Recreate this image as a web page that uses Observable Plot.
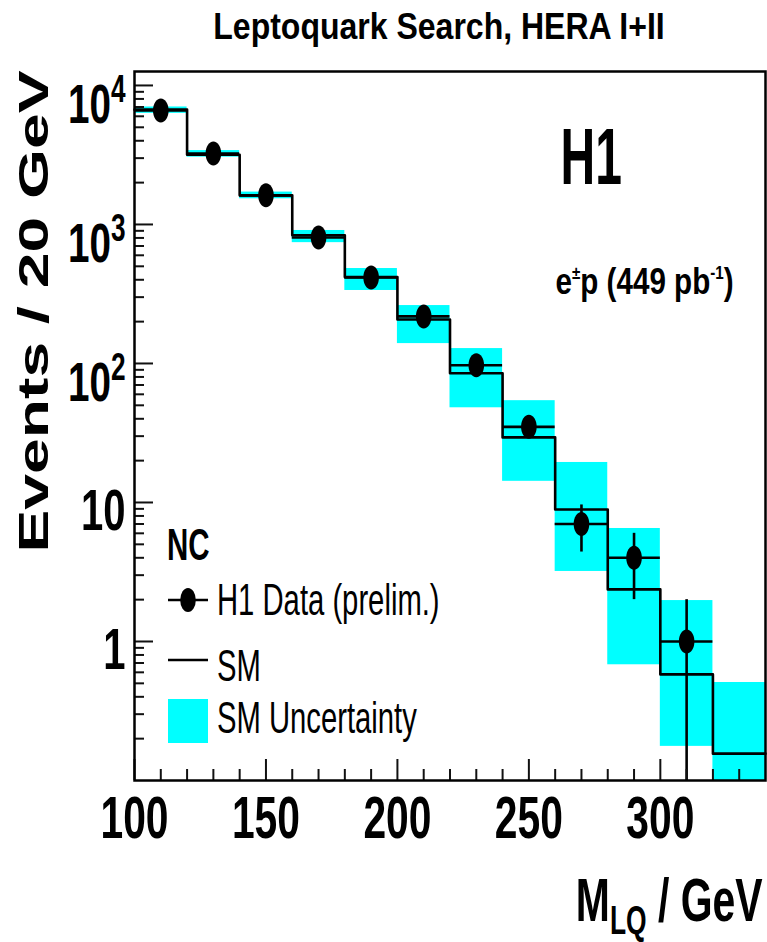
<!DOCTYPE html>
<html><head><meta charset="utf-8">
<script src="https://cdn.jsdelivr.net/npm/d3@7"></script>
<script src="https://cdn.jsdelivr.net/npm/@observablehq/plot@0.6"></script>
<style>
body{margin:0;background:#fff;}
#wrap{position:relative;width:767px;height:942px;overflow:hidden;font-family:"Liberation Sans",Arial,sans-serif;}
#title{position:absolute;left:0;top:0;width:767px;height:60px;}
#title span{position:absolute;left:439px;top:8px;font-size:37px;font-weight:bold;line-height:37px;white-space:nowrap;transform:translateX(-50%) scaleX(0.865);}
#chart{position:absolute;left:0;top:60px;}
#legend{position:absolute;left:0;top:0;}
</style></head>
<body>
<div id="wrap">
  <div id="title"><span>Leptoquark Search, HERA I+II</span></div>
  <div id="chart"></div>
</div>
<script>
// ---- data ----
const binLow    = [100,120,140,160,180,200,220,240,260,280,300,320];
const binHigh   = [120,140,160,180,200,220,240,260,280,300,320,340];
const smEvents  = [6700,3170,1620,837,418,207,85,29.4,8.9,2.37,0.58,0.156];
const smUncLow  = [6300,3050,1530,740,335,139,48,14.2,3.19,0.68,0.176,0.08];
const smUncHigh = [7000,3400,1710,905,482,261,128,54,19.4,6.5,1.97,0.507];
const dataMass    = [110,130,150,170,190,210,230,250,270,290,310];
const dataEvents  = [6600,3240,1620,806,416,218,97,35,7,4,1];
const dataErrDown = [81,57,40,28,20,15,10,6,2.6,2,1];
const dataErrUp   = [81,57,40,28,20,15,10,6,2.6,2,1];
const xMajorTicks = [100,150,200,250,300];
const xMinorTicks = [110,120,130,140,160,170,180,190,210,220,230,240,260,270,280,290,310,320,330];
const yPlainTicks = [1,10];
const yPlainLabels = ["1","10"];
const yPowerTicks = [100,1000,10000];
const yPowerLabels = ["10^{2}","10^{3}","10^{4}"];
const yMinorTicks = [0.2,0.3,0.4,0.5,0.6,0.7,0.8,0.9,2,3,4,5,6,7,8,9,20,30,40,50,60,70,80,90,200,300,400,500,600,700,800,900,2000,3000,4000,5000,6000,7000,8000,9000];
const titleText = "Leptoquark Search, HERA I+II";
const yLabel = "Events / 20 GeV";
const xLabel = "M_{LQ} / GeV";
const expLabel = "H1";
const lumiLabel = "e^{±}p (449 pb^{-1})";
const legendHeader = "NC";
const legendItems = ["H1 Data (prelim.)", "SM", "SM Uncertainty"];

// ---- tables ----
const smBins = binLow.map((lo, i) => ({lo, hi: binHigh[i], v: smEvents[i], uLo: smUncLow[i], uHi: smUncHigh[i]}));
const smStep = [...binLow.map((m, i) => ({m, v: smEvents[i]})), {m: binHigh[binHigh.length-1], v: smEvents[smEvents.length-1]}];
const points = dataMass.map((m, i) => ({m, n: dataEvents[i], lo: binLow[i], hi: binHigh[i], eLo: dataErrDown[i], eHi: dataErrUp[i]}));

const ellipse = {draw(ctx, size){
  const r = Math.sqrt(size/Math.PI), rx = r*0.65, ry = r, k = 0.5523;
  ctx.moveTo(rx,0);
  ctx.bezierCurveTo(rx, ry*k, rx*k, ry, 0, ry);
  ctx.bezierCurveTo(-rx*k, ry, -rx, ry*k, -rx, 0);
  ctx.bezierCurveTo(-rx, -ry*k, -rx*k, -ry, 0, -ry);
  ctx.bezierCurveTo(rx*k, -ry, rx, -ry*k, rx, 0);
  ctx.closePath();
}};

const W = 767, H = 882, MT = 11, MR = 2, MB = 162, ML = 134;
const frameW = W - ML - MR, frameH = H - MT - MB;
const FONT = "Liberation Sans, Arial, sans-serif";
const TICK = "#111";
const chart = Plot.plot({
  width: W, height: H,
  marginTop: MT, marginRight: MR, marginBottom: MB, marginLeft: ML,
  style: {fontFamily: FONT, background: "white", overflow: "visible"},
  x: {domain: [100, 340]},
  y: {type: "log", domain: [0.1, 12600]},
  marks: [
    Plot.rect(smBins, {x1: "lo", x2: "hi", y1: "uLo", y2: "uHi", fill: "#00ffff", clip: true}),
    Plot.line(smStep, {x: "m", y: "v", curve: "step-after", stroke: "#000", strokeWidth: 2.6}),
    Plot.ruleY(points, {x1: "lo", x2: "hi", y: "n", stroke: "#000", strokeWidth: 2.6}),
    Plot.ruleX(points, {x: "m", y1: d => Math.max(d.n - d.eLo, 0.05), y2: d => d.n + d.eHi, stroke: "#000", strokeWidth: 2.6, clip: true}),
    Plot.dot(points, {x: "m", y: "n", r: 12, symbol: ellipse, fill: "#000", stroke: "none"}),
    // inward ticks
    Plot.tickX(xMajorTicks, {x: d => d, insetTop: frameH - 21, stroke: TICK, strokeWidth: 2}),
    Plot.tickX(xMinorTicks, {x: d => d, insetTop: frameH - 11, stroke: TICK, strokeWidth: 2}),
    Plot.tickY([...yPlainTicks, ...yPowerTicks], {y: d => d, insetRight: frameW - 19, stroke: TICK, strokeWidth: 2}),
    Plot.tickY(yMinorTicks, {y: d => d, insetRight: frameW - 10, stroke: TICK, strokeWidth: 2}),
    // tick labels
    Plot.axisX(xMajorTicks, {tickSize: 0, tickPadding: 15, fontSize: 60, fontWeight: "bold", lineAnchor: "top", tickFormat: d => String(d)}),
    Plot.axisY(yPlainTicks, {tickSize: 0, tickPadding: 9, fontSize: 58, fontWeight: "bold", lineAnchor: "bottom", dy: 28,
      tickFormat: d => yPlainLabels[yPlainTicks.indexOf(d)]}),
    Plot.axisY(yPowerTicks, {tickSize: 0, tickPadding: 9, fontSize: 56, fontWeight: "bold", lineAnchor: "bottom", dy: 38,
      tickFormat: d => yPowerLabels[yPowerTicks.indexOf(d)]}),
    Plot.frame({stroke: "#000", strokeWidth: 2.5}),
    Plot.text([expLabel], {frameAnchor: "top-left", dx: 426, dy: 112, lineAnchor: "bottom", textAnchor: "start", fontSize: 80, fontWeight: "bold"}),
    Plot.text([lumiLabel], {frameAnchor: "top-left", dx: 421, dy: 222, lineAnchor: "bottom", textAnchor: "start", fontSize: 37, fontWeight: "bold"}),
    Plot.text([yLabel], {frameAnchor: "left", rotate: -90, dx: -87, dy: -114.5, lineAnchor: "bottom", textAnchor: "middle", fontSize: 42, fontWeight: "bold"}),
    Plot.text([xLabel], {frameAnchor: "bottom-right", dx: -3, dy: 140, lineAnchor: "bottom", textAnchor: "end", fontSize: 62, fontWeight: "bold"})
  ]
});
document.getElementById("chart").appendChild(chart);

// ---- text post-processing: ROOT-like condensed glyphs and super/subscripts ----
function condense(el, sx){
  const t = el.getAttribute("transform") || "";
  el.setAttribute("transform", t + ` scale(${sx},1)`);
}
function scripts(el, smallSize, shift){
  const s = el.textContent;
  if (!/[\^_]\{/.test(s)) return;
  el.textContent = "";
  const re = /([\^_])\{([^}]*)\}/g;
  let last = 0, m, pending = 0;
  const add = (txt, size, dy) => {
    const ts = document.createElementNS("http://www.w3.org/2000/svg", "tspan");
    ts.textContent = txt;
    if (size) ts.setAttribute("font-size", size);
    if (dy) ts.setAttribute("dy", dy);
    el.appendChild(ts);
  };
  while ((m = re.exec(s))) {
    if (m.index > last) { add(s.slice(last, m.index), null, pending); pending = 0; }
    const d = m[1] === "^" ? -shift : shift;
    add(m[2], smallSize, d + pending);
    pending = -d;
    last = re.lastIndex;
  }
  if (last < s.length) add(s.slice(last), null, pending);
}
const xTickStrings = xMajorTicks.map(String);
d3.select(chart).selectAll("text").each(function(){
  const s = this.textContent;
  if (yPowerLabels.includes(s)) { scripts(this, 38, 21); condense(this, 0.69); }
  else if (yPlainLabels.includes(s)) condense(this, 0.69);
  else if (xTickStrings.includes(s)) condense(this, 0.68);
  else if (s === expLabel) condense(this, 0.6);
  else if (s === lumiLabel) { scripts(this, 19, 15); condense(this, 0.8); }
  else if (s === yLabel) condense(this, 1.53);
  else if (s === xLabel) { scripts(this, 40, 13); condense(this, 0.66); }
});

// ---- legend (page coordinates overlay) ----
const leg = d3.select("#wrap").append("svg").attr("id","legend").attr("width",767).attr("height",942)
  .style("font-family", FONT);
leg.append("text").attr("transform","translate(167,560) scale(0.67,1)").attr("font-size",44).attr("font-weight","bold").text(legendHeader);
leg.append("line").attr("x1",168).attr("x2",208).attr("y1",600).attr("y2",600).attr("stroke","#000").attr("stroke-width",2.6);
leg.append("ellipse").attr("cx",188).attr("cy",600).attr("rx",7.8).attr("ry",12).attr("fill","#000");
leg.append("line").attr("x1",168).attr("x2",208).attr("y1",660).attr("y2",660).attr("stroke","#000").attr("stroke-width",2.6);
leg.append("rect").attr("x",168).attr("y",699).attr("width",40).attr("height",44).attr("fill","#00ffff");
[[615, legendItems[0]], [681, legendItems[1]], [733, legendItems[2]]].forEach(([y, t]) => {
  leg.append("text").attr("transform",`translate(217,${y}) scale(0.65,1)`).attr("font-size",45).text(t);
});
</script>
</body></html>
